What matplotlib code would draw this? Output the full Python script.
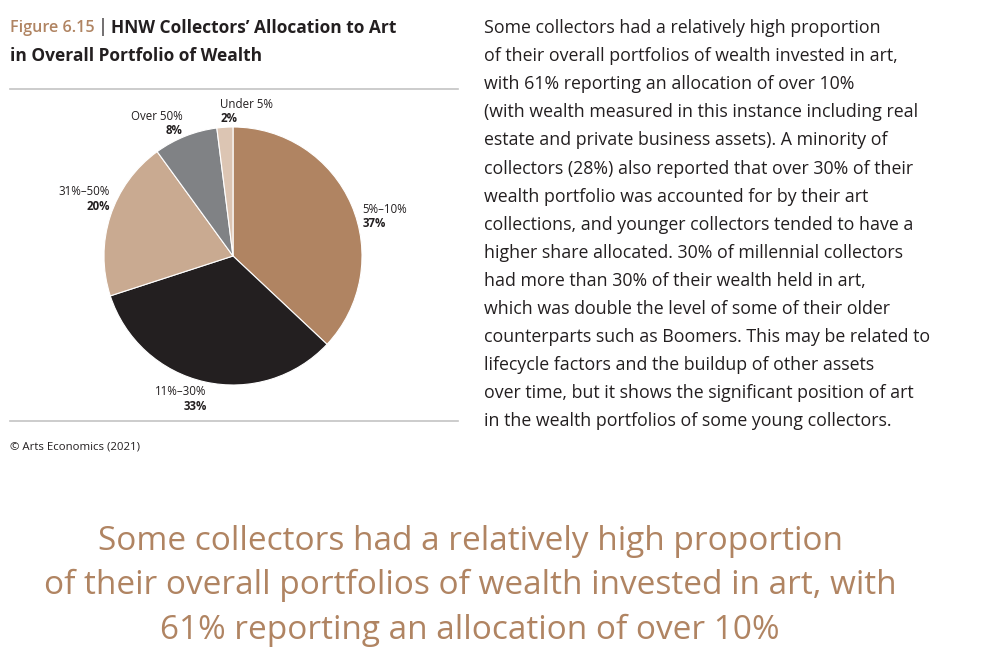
import matplotlib.pyplot as plt
import numpy as np

plt.rcParams['font.family'] = ['Open Sans', 'DejaVu Sans']

categories = ['5%–10%', '11%–30%', '31%–50%', 'Over 50%', 'Under 5%']
shares = [37, 33, 20, 8, 2]
colors = ['#B08462', '#231F20', '#C9AA91', '#808285', '#DCC5B3']

title_fig = 'Figure 6.15'
title_rest = 'HNW Collectors’ Allocation to Art'
title_line2 = 'in Overall Portfolio of Wealth'
source = '© Arts Economics (2021)'

body = [
    'Some collectors had a relatively high proportion',
    'of their overall portfolios of wealth invested in art,',
    'with 61% reporting an allocation of over 10%',
    '(with wealth measured in this instance including real',
    'estate and private business assets). A minority of',
    'collectors (28%) also reported that over 30% of their',
    'wealth portfolio was accounted for by their art',
    'collections, and younger collectors tended to have a',
    'higher share allocated. 30% of millennial collectors',
    'had more than 30% of their wealth held in art,',
    'which was double the level of some of their older',
    'counterparts such as Boomers. This may be related to',
    'lifecycle factors and the buildup of other assets',
    'over time, but it shows the significant position of art',
    'in the wealth portfolios of some young collectors.',
]

quote = [
    'Some collectors had a relatively high proportion',
    'of their overall portfolios of wealth invested in art, with',
    '61% reporting an allocation of over 10%',
]

brown = '#B08462'
dark = '#231F20'

W, H = 1000, 667
fig = plt.figure(figsize=(10, 6.67), dpi=100)

def px(x, y):
    return x / W, 1 - y / H

# title
t1 = fig.text(*px(10, 28), title_fig, color=brown, fontsize=11.6,
              fontweight='semibold', va='center')
fig.canvas.draw()
r = fig.canvas.get_renderer()
bb = t1.get_window_extent(r)
t2 = fig.text(bb.x1 / W + 0.003, px(0, 27)[1], '|', color=dark, fontsize=13,
              fontweight='normal', va='center')
bb = t2.get_window_extent(r)
fig.text(bb.x1 / W + 0.003, px(0, 28)[1], title_rest, color=dark, fontsize=12.5,
         fontweight='bold', va='center')
fig.text(*px(10, 56), title_line2, color=dark, fontsize=12.5,
         fontweight='bold', va='center')

# rules
for y in (89, 421):
    fig.add_artist(plt.Line2D([10 / W, 458 / W], [1 - y / H] * 2,
                              color='#C4C4C4', lw=1.2))

fig.text(*px(10, 447), source, color=dark, fontsize=8.2, va='center')

# pie
cx, cy, half = 233, 256, 200
ax = fig.add_axes([(cx - half) / W, (H - cy - half) / H, 2 * half / W, 2 * half / H])
wedges, _ = ax.pie(shares, colors=colors, startangle=90, counterclock=False,
                   wedgeprops=dict(edgecolor='white', linewidth=0.8))
lim = half / 129
ax.set_xlim(-lim, lim)
ax.set_ylim(-lim, lim)
ax.set_aspect('equal')
ax.axis('off')

label_r = [1.14, 1.12, 1.17, 1.11, 1.12]
label_ha = ['left', 'right', 'right', 'right', 'left']
label_dx = [-0.04, 0.04, 0.16, 0.02, -0.03]
label_dy = [-0.14, -0.01, 0.085, 0.0, 0.01]
for w, cat, s, rr, ha, dx, dy in zip(wedges, categories, shares, label_r,
                                      label_ha, label_dx, label_dy):
    ang = np.deg2rad((w.theta1 + w.theta2) / 2)
    x = rr * np.cos(ang) + dx
    y = rr * np.sin(ang) + dy
    ax.text(x, y + 0.05, cat, ha=ha, va='center', fontsize=8.3, color=dark)
    ax.text(x, y - 0.06, f'{s}%', ha=ha, va='center', fontsize=8.3,
            color=dark, fontweight='bold')

# body text
for i, line in enumerate(body):
    fig.text(*px(484, 28 + i * 28.1), line, color=dark, fontsize=12.8, va='center')

# quote
for i, line in enumerate(quote):
    fig.text(*px(470, 541 + i * 44.5), line, color=brown, fontsize=24,
             ha='center', va='center')

fig.savefig('out.png', dpi=100, facecolor='white')
